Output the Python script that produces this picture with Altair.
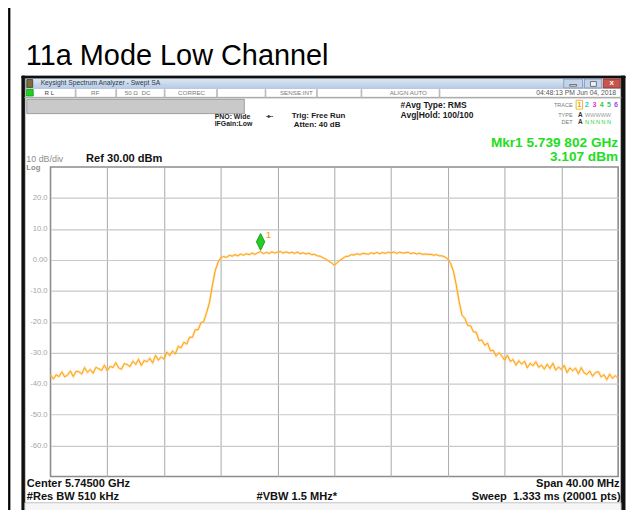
import altair as alt
import pandas as pd

# ---------------- data ----------------
CENTER_GHZ = 5.745
SPAN_GHZ = 0.040
REF_DBM = 30.0
DB_PER_DIV = 10.0

# trace level (dBm) at 201 evenly spaced sweep points, 5.725 -> 5.765 GHz
levels_left_skirt = [
    -37.1, -38.5, -37.1, -37.7, -36.2, -37.8, -37.2, -35.9, -37.7, -36.0,
    -36.1, -36.9, -34.8, -36.3, -35.4, -36.6, -34.7, -35.2, -35.7, -34.0,
    -35.8, -34.4, -34.8, -33.2, -34.9, -35.3, -33.5, -33.8, -34.5, -32.7,
    -33.8, -32.1, -34.1, -32.5, -32.9, -31.8, -33.3, -30.8, -32.4, -31.3,
    -32.1, -29.8, -30.9, -29.4, -30.4, -27.9, -28.4, -26.6, -27.2, -25.0,
    -25.0, -22.5, -22.6, -20.3, -19.9, -17.0, -13.8, -8.4, -3.6, -0.8,
    0.7,
]
levels_top = [
    1.1, 0.8, 1.5, 1.2, 1.7, 1.3, 1.9, 1.5, 2.0, 1.7,
    2.2, 1.8, 2.3, 2.7, 2.0, 2.4, 2.1, 2.6, 2.2, 2.5,
    2.7, 2.2, 2.6, 2.2, 2.5, 2.1, 2.5, 2.0, 2.3, 1.9,
    2.2, 1.7, 1.8, 1.3, 1.2, 0.7, 0.3, -0.4, -1.0, -1.7,
    -0.9, -0.1, 0.5, 1.1, 1.2, 1.7, 1.6, 2.0, 1.7, 2.1,
    2.0, 1.8, 2.3, 2.0, 2.4, 2.0, 2.4, 2.1, 2.5, 2.2,
    2.6, 2.1, 2.5, 2.2, 2.3, 2.5, 2.0, 2.3, 1.9, 2.2,
    1.8, 1.9, 1.8, 1.8, 1.5, 1.7, 1.3, 1.3, 0.9,
]
levels_right_skirt = [
    0.3, -1.2, -3.8, -8.3, -13.6, -17.9, -18.9, -21.2, -21.3, -23.2,
    -23.4, -26.1, -25.9, -27.6, -26.9, -29.4, -29.2, -31.1, -30.0, -31.0,
    -32.4, -30.8, -32.8, -32.2, -34.0, -32.6, -33.7, -32.7, -34.9, -33.4,
    -34.2, -32.9, -34.7, -34.0, -35.3, -33.7, -35.1, -33.4, -35.6, -34.6,
    -35.4, -34.1, -36.4, -34.9, -35.8, -35.0, -36.8, -34.8, -36.5, -37.0,
    -35.9, -37.6, -36.4, -36.1, -37.8, -37.1, -38.7, -36.9, -38.3, -37.4,
    -38.3,
]
levels = levels_left_skirt + levels_top + levels_right_skirt

mkr_freq = [5.739802]
mkr_level = [3.107]
mkr_name = ["1"]

y_tick_values = [20, 10, 0, -10, -20, -30, -40, -50, -60]
y_tick_labels = ["20.0", "10.0", "0.00", "-10.0", "-20.0", "-30.0", "-40.0", "-50.0", "-60.0"]

# ---------------- derived tables ----------------
n = len(levels)
f_start = CENTER_GHZ - SPAN_GHZ / 2
f_stop = CENTER_GHZ + SPAN_GHZ / 2
freqs = [f_start + i * SPAN_GHZ / (n - 1) for i in range(n)]
trace = pd.DataFrame({"freq": freqs, "level": levels})
marker = pd.DataFrame({"freq": mkr_freq, "level": mkr_level, "name": mkr_name})
ylab = pd.DataFrame({"level": y_tick_values, "lab": y_tick_labels})
x_grid = [f_start + k * SPAN_GHZ / 10 for k in range(1, 10)]
y_bottom = REF_DBM - 10 * DB_PER_DIV

PW, PH = 574, 313          # plot area
OX, OY = 51, 166           # plot origin on the page
FONT = "Liberation Sans"

xs = alt.Scale(domain=[f_start, f_stop], nice=False, zero=False)
ys = alt.Scale(domain=[y_bottom, REF_DBM], nice=False, zero=False)

# ---------------- decoration (screen furniture) ----------------
rects = [
    # x1, y1, x2, y2, fill, stroke   (page coordinates)
    (8.5, 0, 10, 520, "#000000", "#000000"),        # outer frame left
    (22, 74, 25, 520, "#111111", "#111111"),        # window left
    (628, 74, 632, 520, "#111111", "#111111"),      # window right
    (22, 74, 632, 76, "#111111", "#111111"),        # window top
    (25, 95.5, 628, 96.2, "#A8A8A8", "#A8A8A8"),    # status row bottom line
    (26.5, 87.6, 33.5, 94.2, "#1FD11F", "#119911"), # LXI icon
    (27, 77.5, 33, 85.5, "#7A6A40", "#4A3A20"),     # app icon
    (27, 97.5, 247, 112, "#C9C9C9", "#8E8E8E"),     # gray bar
    (570, 77, 589, 86, "#C3D4EA", "#7D95B5"),       # minimize
    (591, 77, 608, 86, "#C3D4EA", "#7D95B5"),       # restore
    (610, 77, 627, 86, "#C8554C", "#8A2E28"),       # close
    (576, 82.6, 583, 84.2, "#F4F4F4", "#555555"),   # minimize glyph
    (597, 79.6, 603, 84.4, "#F4F4F4", "#555555"),   # restore glyph
    (582.5, 98.5, 589, 107.5, "#FFFFFF", "#F0A000"),# box around trace 1
    (25, 505.5, 628, 520, "#F6F6F6", "#B4B4B4"),    # message bar
]
for sx in [76, 117, 166, 219, 268, 320, 365, 444]:
    rects.append((sx, 87.5, sx + 0.8, 95.5, "#B8B8B8", "#B8B8B8"))

rect_df = pd.DataFrame(
    [(a - OX, b - OY, c - OX, d - OY, f, s) for a, b, c, d, f, s in rects],
    columns=["x1", "y1", "x2", "y2", "fill", "stroke"],
)

titlebar_df = pd.DataFrame({"x1": [25 - OX], "x2": [628 - OX], "y1": [76 - OY], "y2": [87 - OY]})

texts = {
    "left_normal": [
        ("11a Mode Low Channel", 26, 54, 29.2, "#000000"),
        ("Keysight Spectrum Analyzer - Swept SA", 41, 81.2, 6.8, "#2E3A48"),
        ("R L", 45, 90.8, 6.3, "#444444"),
        ("RF", 92, 90.8, 6.3, "#7A7A7A"),
        ("50 Ω", 126, 90.8, 6.3, "#7A7A7A"),
        ("DC", 143, 90.8, 6.3, "#7A7A7A"),
        ("CORREC", 180, 90.8, 6.3, "#7A7A7A"),
        ("SENSE:INT", 283, 90.8, 6.3, "#7A7A7A"),
        ("ALIGN AUTO", 394, 90.8, 6.3, "#7A7A7A"),
        ("10 dB/div", 26.5, 157.5, 9.0, "#8E8E8E"),
        ("WWWWW", 591.5, 113.3, 5.6, "#9A9A9A"),
        ("N N N N N", 591.5, 120.5, 5.6, "#2FD12F"),
    ],
    "left_bold": [
        ("PNO: Wide", 217, 115.3, 7.0, "#1A1A1A"),
        ("IFGain:Low", 217, 122.8, 7.0, "#1A1A1A"),
        ("Trig: Free Run", 295, 114, 8.0, "#1A1A1A"),
        ("Atten: 40 dB", 297, 124, 8.0, "#1A1A1A"),
        ("#Avg Type: RMS", 405, 103.5, 8.6, "#1A1A1A"),
        ("Avg|Hold: 100/100", 405, 113.5, 8.6, "#1A1A1A"),
        ("Log", 26.5, 167.0, 7.8, "#8E8E8E"),
        ("Ref 30.00 dBm", 87, 157.5, 11.2, "#111111"),
        ("Center 5.74500 GHz", 27, 486.5, 11.2, "#111111"),
        ("#Res BW 510 kHz", 27, 499.5, 11.2, "#111111"),
        ("A", 584.5, 113.3, 6.5, "#333333"),
        ("A", 584.5, 120.5, 6.5, "#333333"),
    ],
    "center_bold": [
        ("1", 585.8, 103.3, 7.2, "#F0A000"),
        ("2", 593.3, 103.3, 7.2, "#22C8EE"),
        ("3", 601.0, 103.3, 7.2, "#EE33CC"),
        ("4", 608.3, 103.3, 7.2, "#33CC33"),
        ("5", 615.7, 103.3, 7.2, "#3FBF7F"),
        ("6", 622.7, 103.3, 7.2, "#AA44EE"),
        ("x", 618.5, 81.2, 8.0, "#FFFFFF"),
        ("#VBW 1.5 MHz*", 300, 499.5, 11.2, "#111111"),
        ("-▸-", 272.5, 114, 6.5, "#333333"),
    ],
    "right_normal": [
        ("04:48:13 PM Jun 04, 2018", 623, 90.8, 6.9, "#555555"),
        ("TRACE", 579, 103.3, 5.6, "#7A7A7A"),
        ("TYPE", 579, 113.3, 5.6, "#7A7A7A"),
        ("DET", 579, 120.5, 5.6, "#7A7A7A"),
    ],
    "right_bold": [
        ("Mkr1 5.739 802 GHz", 625, 141.5, 13.8, "#22DD22"),
        ("3.107 dBm", 625, 155.5, 13.8, "#22DD22"),
        ("Span 40.00 MHz", 626.5, 486.5, 11.2, "#111111"),
        ("Sweep\u00a0 1.333 ms (20001 pts)", 627.5, 499.5, 11.2, "#111111"),
    ],
}

def text_df(rows):
    return pd.DataFrame(
        [(t, x - OX, y - OY, s, c) for t, x, y, s, c in rows],
        columns=["label", "tx", "ty", "fs", "col"],
    )

def text_layer(key, align, weight):
    return alt.Chart(text_df(texts[key])).mark_text(
        align=align, baseline="middle", font=FONT, fontWeight=weight
    ).encode(
        x=alt.X("tx:Q", scale=None, axis=None),
        y=alt.Y("ty:Q", scale=None, axis=None),
        text="label:N",
        size=alt.Size("fs:Q", scale=None, legend=None),
        color=alt.Color("col:N", scale=None, legend=None),
    )

rect_layer = alt.Chart(rect_df).mark_rect(strokeWidth=0.8).encode(
    x=alt.X("x1:Q", scale=None, axis=None),
    x2="x2:Q",
    y=alt.Y("y1:Q", scale=None, axis=None),
    y2="y2:Q",
    fill=alt.Fill("fill:N", scale=None, legend=None),
    stroke=alt.Stroke("stroke:N", scale=None, legend=None),
)

titlebar = alt.Chart(titlebar_df).mark_rect(
    color={
        "gradient": "linear", "x1": 0, "y1": 0, "x2": 0, "y2": 1,
        "stops": [{"offset": 0, "color": "#DFE9F5"}, {"offset": 1, "color": "#B5C9E2"}],
    }
).encode(
    x=alt.X("x1:Q", scale=None, axis=None), x2="x2:Q",
    y=alt.Y("y1:Q", scale=None, axis=None), y2="y2:Q",
)

# ---------------- the measurement ----------------
x_enc = alt.X(
    "freq:Q", scale=xs,
    axis=alt.Axis(values=x_grid, grid=True, labels=False, ticks=False, domain=False,
                  title=None, gridColor="#A9A9A9", gridWidth=1),
)
y_enc = alt.Y(
    "level:Q", scale=ys,
    axis=alt.Axis(values=y_tick_values, grid=True, ticks=False, domain=False, title=None,
                  labels=False, gridColor="#C9C9C9", gridWidth=1.2),
)

halo = alt.Chart(trace).mark_line(color="#FFCB78", strokeWidth=2.4, opacity=0.55).encode(x=x_enc, y=y_enc)
line = alt.Chart(trace).mark_line(color="#FFA10A", strokeWidth=1).encode(x=x_enc, y=y_enc)

mkr = alt.Chart(marker).mark_point(
    shape="M0,-1L0.5,0L0,1L-0.5,0Z", filled=True, fill="#22D022", stroke="#108810",
    strokeWidth=0.8, size=289, yOffset=-8.5, opacity=1,
).encode(x=x_enc, y=y_enc)

mkr_lbl = alt.Chart(marker).mark_text(
    color="#F0A000", font=FONT, fontSize=10, dx=8, dy=-15, align="center", baseline="middle"
).encode(x=x_enc, y=y_enc, text="name:N")

ylabels = alt.Chart(ylab).mark_text(
    align="right", baseline="middle", font=FONT, fontSize=7.7, color="#A5A5A5"
).encode(x=alt.value(-3), y=y_enc, text="lab:N")

chart = alt.layer(
    halo, line, mkr, mkr_lbl, ylabels,
    titlebar, rect_layer,
    text_layer("left_normal", "left", "normal"),
    text_layer("left_bold", "left", "bold"),
    text_layer("center_bold", "center", "bold"),
    text_layer("right_normal", "right", "normal"),
    text_layer("right_bold", "right", "bold"),
).properties(
    width=PW, height=PH,
    padding={"left": OX - 8, "top": OY - 8, "right": 630 - (OX - 8) - PW, "bottom": 502 - (OY - 8) - PH},
    autosize=alt.AutoSizeParams(type="none"),
    background="#FFFFFF",
).configure_view(stroke="#8C8C8C", strokeWidth=1.6)

chart.save("out.html", embed_options={"renderer": "svg", "actions": False})
